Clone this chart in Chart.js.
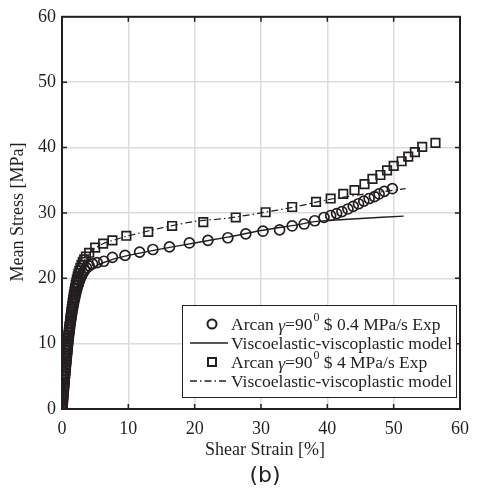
<!DOCTYPE html>
<html>
<head>
<meta charset="utf-8">
<script src="https://cdn.jsdelivr.net/npm/chart.js@4"></script>
<style>
  html, body { margin: 0; padding: 0; background: #fff; }
  #wrap { width: 478px; height: 490px; }
</style>
</head>
<body>
<div id="wrap"><canvas id="myChart"></canvas></div>
<script>
// Mean stress vs shear strain, Arcan 90 deg, two loading rates

const xTicks = [0, 10, 20, 30, 40, 50, 60];
const yTicks = [0, 10, 20, 30, 40, 50, 60];

// 0.4 MPa/s experiment (circles)
const slowExp = [
  [0, 0], [0.03, 0.4], [0.06, 0.8], [0.09, 1.2], [0.12, 1.6], [0.15, 2.0], [0.18, 2.4], [0.21, 2.8],
  [0.24, 3.2], [0.27, 3.6], [0.3, 4.0], [0.33, 4.4], [0.36, 4.8], [0.39, 5.2], [0.42, 5.6], [0.46, 6.0],
  [0.5, 6.4], [0.54, 6.8], [0.58, 7.2], [0.62, 7.6], [0.66, 8.0], [0.7, 8.4], [0.74, 8.8], [0.78, 9.2],
  [0.82, 9.6], [0.86, 10.0], [0.9, 10.4], [0.95, 10.8], [1.0, 11.2], [1.05, 11.6], [1.1, 12.0],
  [1.15, 12.4], [1.2, 12.8], [1.26, 13.2], [1.32, 13.6], [1.38, 14.0], [1.44, 14.4], [1.5, 14.8],
  [1.57, 15.2], [1.64, 15.6], [1.71, 16.0], [1.79, 16.4], [1.87, 16.8], [1.96, 17.2], [2.05, 17.6],
  [2.15, 18.0], [2.25, 18.4], [2.36, 18.8], [2.48, 19.2], [2.62, 19.6], [2.78, 20.0], [2.95, 20.4],
  [3.15, 20.8], [3.4, 21.2], [3.7, 21.6], [4.1, 21.9], [4.6, 22.2], [5.3, 22.4], [6.3, 22.6],
  [7.6, 23.2], [9.5, 23.5], [11.7, 24.0], [13.7, 24.4], [16.2, 24.8], [19.2, 25.4], [22.0, 25.8],
  [25.0, 26.2], [27.7, 26.8], [30.3, 27.2], [32.8, 27.4], [34.7, 28.0], [36.5, 28.3], [38.1, 28.8],
  [39.5, 29.3], [40.5, 29.6], [41.4, 29.9], [42.2, 30.2], [43.1, 30.6], [43.9, 31.0], [44.7, 31.4],
  [45.5, 31.8], [46.3, 32.2], [47.1, 32.5], [47.8, 32.9], [48.6, 33.3], [49.8, 33.7]
];

// 0.4 MPa/s model (solid)
const slowModel = [
  [0, 0], [0.5, 4.5], [1, 9], [1.5, 13], [2, 16], [2.5, 18.2], [3, 19.6], [3.5, 20.4], [4, 21.0],
  [5, 21.8], [6, 22.3], [8, 23.0], [10, 23.5], [15, 24.5], [20, 25.4], [25, 26.3], [30, 27.3],
  [35, 28.1], [38.5, 28.7], [45, 29.15], [51.5, 29.5]
];

// 4 MPa/s experiment (squares)
const fastExp = [
  [0, 0], [0.04, 0.45], [0.08, 0.9], [0.12, 1.35], [0.16, 1.8], [0.2, 2.25], [0.24, 2.7], [0.28, 3.15],
  [0.32, 3.6], [0.36, 4.05], [0.4, 4.5], [0.44, 4.95], [0.48, 5.4], [0.52, 5.85], [0.56, 6.3],
  [0.6, 6.75], [0.64, 7.2], [0.68, 7.65], [0.72, 8.1], [0.76, 8.55], [0.8, 9.0], [0.84, 9.45],
  [0.88, 9.9], [0.92, 10.35], [0.96, 10.8], [1.0, 11.25], [1.05, 11.7], [1.1, 12.15], [1.15, 12.6],
  [1.2, 13.05], [1.25, 13.5], [1.3, 13.95], [1.36, 14.4], [1.42, 14.85], [1.48, 15.3], [1.54, 15.75],
  [1.6, 16.2], [1.67, 16.65], [1.74, 17.1], [1.81, 17.55], [1.89, 18.0], [1.97, 18.45], [2.06, 18.9],
  [2.15, 19.35], [2.25, 19.8], [2.36, 20.25], [2.48, 20.7], [2.62, 21.15], [2.78, 21.6], [2.95, 22.05],
  [3.15, 22.5], [3.35, 22.9], [3.6, 23.3], [4.1, 23.9], [5.0, 24.7], [6.2, 25.3], [7.6, 25.8],
  [9.7, 26.5], [13.0, 27.1], [16.6, 28.0], [21.3, 28.6], [26.2, 29.3], [30.7, 30.1], [34.7, 30.9],
  [38.3, 31.7], [40.5, 32.2], [42.4, 32.9], [44.1, 33.5], [45.6, 34.4], [46.8, 35.2], [48.0, 35.8],
  [49.0, 36.5], [50.0, 37.2], [51.2, 37.9], [52.2, 38.6], [53.2, 39.3], [54.3, 40.1], [56.3, 40.7]
];

// 4 MPa/s model (dash-dot)
const fastModel = [
  [0, 0], [0.5, 5], [1, 10], [1.5, 14], [2, 17.5], [2.5, 20], [3, 21.8], [3.5, 23], [4, 23.8],
  [5, 24.6], [6, 25.2], [8, 25.9], [10, 26.5], [15, 27.7], [20, 28.7], [25, 29.2], [30, 30.0],
  [35, 30.9], [40, 32.0], [45, 32.8], [51.8, 33.7]
];

// legend text pieces: text, greek, text, superscript, text
const labels = [
  ["Arcan ", "\u03b3", "=90", "0", " $ 0.4 MPa/s Exp"],
  ["Viscoelastic-viscoplastic model"],
  ["Arcan ", "\u03b3", "=90", "0", " $ 4 MPa/s Exp"],
  ["Viscoelastic-viscoplastic model"],
];

const ink = "#231f20";
const serif = "'Liberation Serif', 'Times New Roman', serif";
const toXY = (arr) => arr.map((p) => ({ x: p[0], y: p[1] }));

// inner ticks, box, titles and legend
const decor = {
  id: "decor",
  afterDraw(chart) {
    const { ctx, chartArea: a, scales } = chart;
    ctx.save();
    ctx.strokeStyle = ink;
    ctx.lineWidth = 2;
    ctx.strokeRect(a.left, a.top, a.right - a.left, a.bottom - a.top);
    ctx.lineWidth = 1.5;
    ctx.beginPath();
    xTicks.slice(1, -1).forEach((v) => {
      const px = scales.x.getPixelForValue(v);
      ctx.moveTo(px, a.bottom); ctx.lineTo(px, a.bottom - 5);
      ctx.moveTo(px, a.top); ctx.lineTo(px, a.top + 5);
    });
    yTicks.slice(1, -1).forEach((v) => {
      const py = scales.y.getPixelForValue(v);
      ctx.moveTo(a.left, py); ctx.lineTo(a.left + 5, py);
      ctx.moveTo(a.right, py); ctx.lineTo(a.right - 5, py);
    });
    ctx.stroke();

    // axis titles
    ctx.fillStyle = ink;
    ctx.font = "18px " + serif;
    ctx.textAlign = "center";
    ctx.textBaseline = "middle";
    ctx.fillText("Shear Strain [%]", 265, 450);
    ctx.save();
    ctx.translate(18, 212);
    ctx.rotate(-Math.PI / 2);
    ctx.fillText("Mean Stress [MPa]", 0, 0);
    ctx.restore();
    ctx.font = "22px 'DejaVu Sans', sans-serif";
    ctx.fillText("(b)", 265, 476);

    // legend box
    const bx = 182, by = 305, bw = 274, bh = 92;
    ctx.fillStyle = "#fff";
    ctx.fillRect(bx, by, bw, bh);
    ctx.lineWidth = 1;
    ctx.strokeStyle = ink;
    ctx.strokeRect(bx + 0.5, by + 0.5, bw, bh);
    const rows = [324, 343, 362, 381];
    chart.data.datasets.forEach((ds, i) => {
      const y = rows[i];
      ctx.strokeStyle = ink;
      if (ds.showLine) {
        ctx.lineWidth = 1.5;
        ctx.setLineDash(ds.borderDash || []);
        ctx.beginPath();
        ctx.moveTo(190, y); ctx.lineTo(228, y);
        ctx.stroke();
        ctx.setLineDash([]);
      } else {
        ctx.lineWidth = 2;
        ctx.beginPath();
        if (ds.pointStyle === "rect") ctx.rect(208, y - 4, 8, 8);
        else ctx.arc(212, y, 4.5, 0, Math.PI * 2);
        ctx.stroke();
      }
      ctx.fillStyle = ink;
      ctx.textAlign = "left";
      ctx.textBaseline = "middle";
      let x = 231;
      const parts = labels[i];
      const main = "17.5px " + serif;
      ctx.font = main;
      if (parts.length === 1) {
        ctx.fillText(parts[0], x, y + 1);
        return;
      }
      ctx.fillText(parts[0], x, y + 1);
      x += ctx.measureText(parts[0]).width;
      ctx.font = "italic 17.5px " + serif;
      ctx.fillText(parts[1], x, y + 2);
      x += ctx.measureText(parts[1]).width;
      ctx.font = main;
      ctx.fillText(parts[2], x, y + 1);
      x += ctx.measureText(parts[2]).width;
      ctx.font = "12px " + serif;
      ctx.fillText(parts[3], x + 1, y - 6);
      x += ctx.measureText(parts[3]).width + 1;
      ctx.font = main;
      ctx.fillText(parts[4], x, y + 1);
    });
    ctx.restore();
  },
};

const myChart = new Chart(document.querySelector("#myChart"), {
  type: "scatter",
  data: {
    datasets: [
      {
        label: "slowExp",
        data: toXY(slowExp),
        pointStyle: "circle",
        pointRadius: 5,
        pointBorderWidth: 1.7,
        pointBorderColor: ink,
        pointBackgroundColor: "rgba(0,0,0,0)",
        showLine: false,
      },
      {
        label: "slowModel",
        data: toXY(slowModel),
        showLine: true,
        borderColor: ink,
        borderWidth: 1.4,
        pointRadius: 0,
        tension: 0.3,
      },
      {
        label: "fastExp",
        data: toXY(fastExp),
        pointStyle: "rect",
        pointRadius: 6,
        pointBorderWidth: 1.7,
        pointBorderColor: ink,
        pointBackgroundColor: "rgba(0,0,0,0)",
        showLine: false,
      },
      {
        label: "fastModel",
        data: toXY(fastModel),
        showLine: true,
        borderColor: ink,
        borderWidth: 1.2,
        borderDash: [7, 3, 1.5, 3],
        pointRadius: 0,
        tension: 0.3,
      },
    ],
  },
  options: {
    responsive: true,
    maintainAspectRatio: false,
    animation: false,
    layout: { padding: { top: 14, right: 9, left: 0, bottom: 0 } },
    plugins: { legend: { display: false }, tooltip: { enabled: false } },
    scales: {
      x: {
        type: "linear",
        min: 0,
        max: 60,
        afterBuildTicks: (s) => { s.ticks = xTicks.map((v) => ({ value: v })); },
        afterFit: (s) => { s.height = 81; },
        grid: { color: "#dcdcdc", lineWidth: 1.5, drawTicks: false },
        border: { display: false },
        ticks: { color: ink, padding: 9, font: { family: serif, size: 18 } },
      },
      y: {
        type: "linear",
        min: 0,
        max: 60,
        afterBuildTicks: (s) => { s.ticks = yTicks.map((v) => ({ value: v })); },
        afterFit: (s) => { s.width = 62; },
        grid: { color: "#dcdcdc", lineWidth: 1.5, drawTicks: false },
        border: { display: false },
        ticks: { color: ink, padding: 6, font: { family: serif, size: 18 } },
      },
    },
  },
  plugins: [decor],
});
</script>
</body>
</html>
